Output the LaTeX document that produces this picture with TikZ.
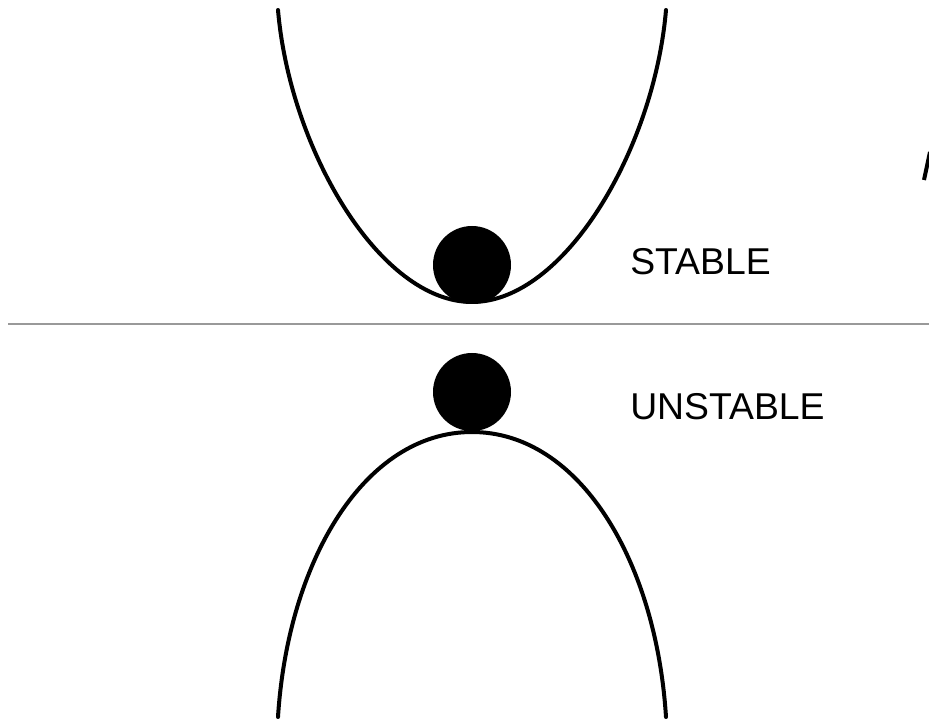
\documentclass[tikz,border=0pt]{standalone}
\usepackage{fontspec}
\setmainfont{Liberation Sans}
\usepackage{tikz}
\usetikzlibrary{calc}

\begin{document}
\begin{tikzpicture}[x=0.75pt, y=-0.75pt]
            \useasboundingbox (0,0) rectangle (929,720);
            \clip (0,0) rectangle (929,720);
            \coordinate (Bs) at (472,265);
            \coordinate (Bu) at (472,392);
            \coordinate (Ws) at (472,302);
            \coordinate (Hu) at (472,432);
            \coordinate (L) at (8,324);
            \coordinate (R) at (929,324);
            % stable well
            \draw[black, line width=3pt, line cap=round]
                (278,10) .. controls (290,150) and (380,302) .. (Ws)
                .. controls (564,302) and (654,150) .. (666,10);
            % unstable hill
            \draw[black, line width=3pt, line cap=round]
                (278,717) .. controls (288,560) and (365,432) .. (Hu)
                .. controls (579,432) and (656,560) .. (666,717);
            \fill[black] (Bs) circle (39);
            \fill[black] (Bu) circle (39);
            \draw[gray!80, line width=2.2pt] (L) -- (R);
            \node[anchor=west, font=\fontsize{28}{30}\selectfont, inner sep=0pt] (stable) at (630,262) {STABLE};
            \node[anchor=west, font=\fontsize{28}{30}\selectfont, inner sep=0pt] (unstable) at (630,407) {UNSTABLE};
            \draw[black, line width=3pt] (924,180) -- (930,152);
        \end{tikzpicture}
\end{document}
